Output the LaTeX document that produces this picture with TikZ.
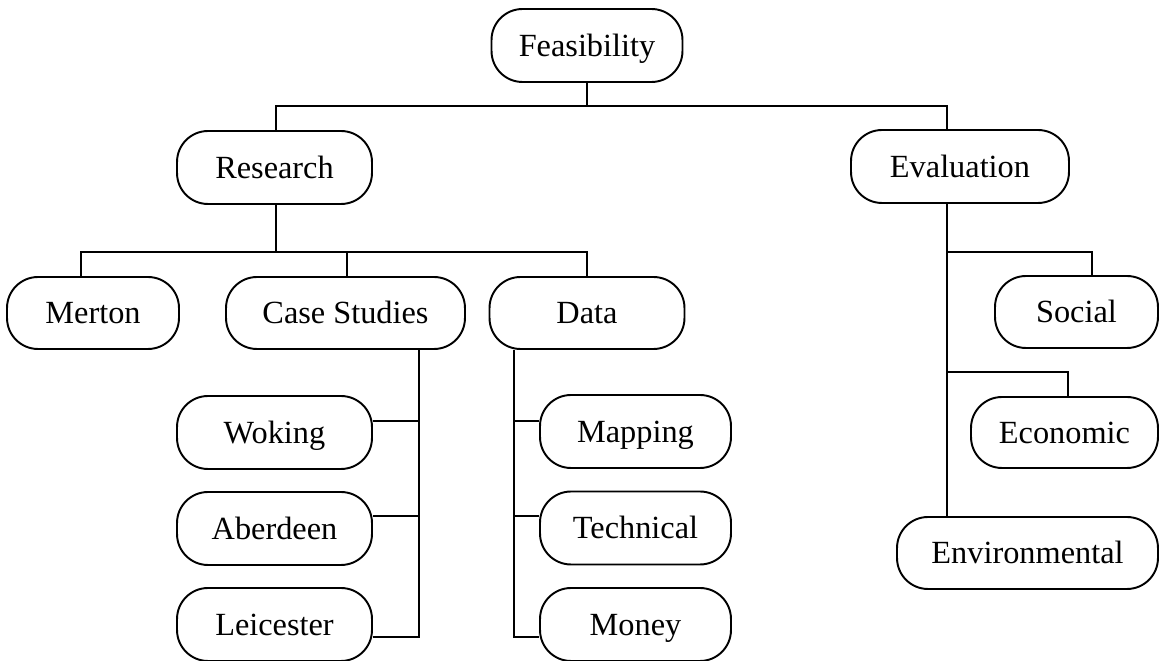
\documentclass[tikz,border=0pt]{standalone}
\usepackage{fontspec}
\setmainfont{Liberation Serif}
\begin{document}
\begin{tikzpicture}[x=0.02cm,y=-0.02cm,
  box/.style={draw,line width=1.1pt,rounded corners=0.62cm,inner sep=0pt,
    font=\fontsize{18.4}{22}\selectfont,minimum height=1.46cm,
    text height=12pt,text depth=0pt},
  conn/.style={line width=1.1pt}]
\useasboundingbox (0,0) rectangle (1161,661);
\fill[white] (0,0) rectangle (1161,661);
% nodes
\node[box,minimum width=3.82cm] (feas) at (587,45.5) {Feasibility};
\node[box,minimum width=3.9cm] (research) at (274.5,167.5) {Research};
\node[box,minimum width=4.36cm] (eval) at (960,166.5) {Evaluation};
\node[box,minimum width=3.44cm,minimum height=1.44cm] (merton) at (93,313) {Merton};
\node[box,minimum width=4.78cm,minimum height=1.44cm] (case) at (345.5,313) {Case Studies};
\node[box,minimum width=3.9cm,minimum height=1.44cm] (data) at (587,313) {Data};
\node[box,minimum width=3.26cm,minimum height=1.44cm] (social) at (1076.5,312) {Social};
\node[box,minimum width=3.9cm] (woking) at (274.5,432.5) {Woking};
\node[box,minimum width=3.9cm] (aberdeen) at (274.5,528.5) {Aberdeen};
\node[box,minimum width=3.9cm] (leicester) at (274.5,624.5) {Leicester};
\node[box,minimum width=3.82cm] (mapping) at (635.5,431.5) {Mapping};
\node[box,minimum width=3.82cm] (technical) at (635.5,528) {Technical};
\node[box,minimum width=3.82cm] (money) at (635.5,624.5) {Money};
\node[box,minimum width=3.74cm,minimum height=1.42cm] (economic) at (1064.5,432.5) {Economic};
\node[box,minimum width=5.22cm,minimum height=1.44cm] (environ) at (1027.5,553) {Environmental};
% junctions
\coordinate (j1) at (587,106);
\coordinate (j2) at (276,252);
\coordinate (jc) at (419,637);
\coordinate (jd) at (514,637);
\coordinate (js) at (1092,252);
\coordinate (je) at (1068,372);
% level 1
\draw[conn] (feas.south) -- (j1);
\draw[conn] (276,0 |- research.north) -- (276,106) -- (947,106) -- (947,0 |- eval.north);
% level 2
\draw[conn] (276,0 |- research.south) -- (j2);
\draw[conn] (81,0 |- merton.north) -- (81,252) -- (587,252) -- (data.north);
\draw[conn] (347,252) -- (347,0 |- case.north);
% case studies
\draw[conn] (419,0 |- case.south) -- (jc) -- (leicester.east |- jc);
\draw[conn] (woking.east |- 0,421) -- (419,421);
\draw[conn] (aberdeen.east |- 0,516) -- (419,516);
% data
\draw[conn] (514,0 |- data.south) -- (jd) -- (money.west |- jd);
\draw[conn] (mapping.west |- 0,421) -- (514,421);
\draw[conn] (technical.west |- 0,516) -- (514,516);
% evaluation
\draw[conn] (947,0 |- eval.south) -- (947,0 |- environ.north);
\draw[conn] (947,252) -- (js) -- (js |- social.north);
\draw[conn] (947,372) -- (je) -- (je |- economic.north);
\end{tikzpicture}
\end{document}
